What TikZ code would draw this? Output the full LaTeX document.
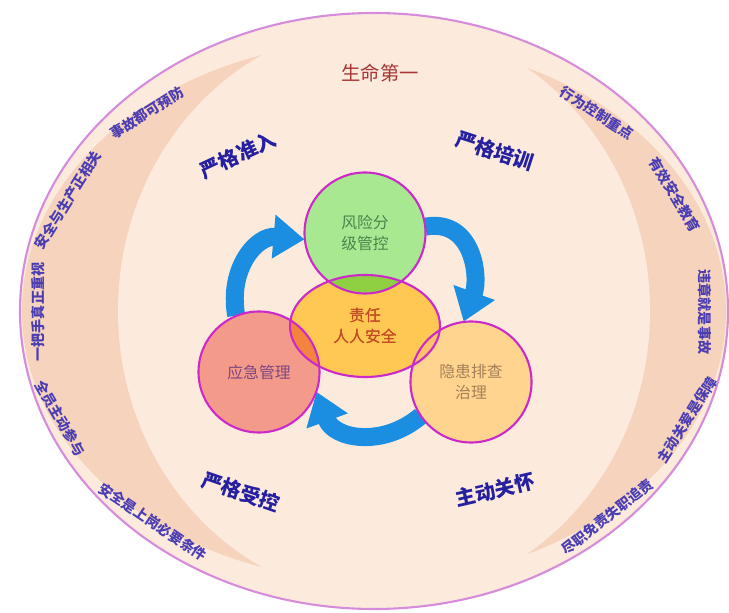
\documentclass[tikz,border=0pt]{standalone}
\usepackage{fontspec}
\setmainfont{Noto Sans CJK SC}
\usetikzlibrary{arrows.meta,backgrounds,shapes.geometric}

\definecolor{rim}{HTML}{D68CDA}
\definecolor{band}{HTML}{F6D3BD}
\definecolor{pale}{HTML}{FCEBDD}
\definecolor{ring}{HTML}{CC2AC8}
\definecolor{flow}{HTML}{1C8EE2}
\definecolor{leaf}{HTML}{A8E890}
\definecolor{leafdark}{HTML}{8ED042}
\definecolor{sun}{HTML}{FFC853}
\definecolor{coral}{HTML}{F49A8A}
\definecolor{coraldark}{HTML}{F2843E}
\definecolor{peach}{HTML}{FFD48E}
\definecolor{peachdark}{HTML}{FFC266}
\definecolor{motto}{HTML}{4B3DB2}
\definecolor{rule}{HTML}{2620A0}
\definecolor{life}{HTML}{A83434}

\tikzset{
  flowarrow/.style={draw=flow, line width=0.36cm, -{Triangle[width=0.84cm,length=0.62cm]}},
  ringline/.style={draw=ring, line width=1.2pt}
}

\begin{document}
\begin{tikzpicture}[x=0.02cm,y=0.02cm]
\useasboundingbox (0,0) rectangle (729,612);

        \begin{scope}[every node/.style={circle, minimum size=2.42cm, inner sep=0pt, align=center, font=\fontsize{9}{11.5}\selectfont}]
          \node[ellipse, minimum width=3cm, minimum height=2.04cm, fill=sun, text=life!70!orange] (duty) at (365,286) {责任\\人人安全};
          \node[fill=leaf, text=black!45!green!40!gray] (risk) at (365,379) {风险分\\级管控};
          \node[fill=coral, text=violet!45!gray] (emerg) at (259,240) {应急管理};
          \node[fill=peach, text=brown!60!gray] (hazard) at (471,230) {隐患排查\\治理};
        \end{scope}

        \begin{scope}
          \clip (duty.center) ellipse [x radius=75, y radius=51];
          \fill[leafdark] (risk.center) circle [radius=60.5];
          \fill[coraldark] (emerg.center) circle [radius=60.5];
          \fill[peachdark] (hazard.center) circle [radius=60.5];
        \end{scope}
        \node[text=life!70!orange, align=center, font=\fontsize{9}{11.5}\selectfont] at (duty.center) {责任\\人人安全};

        \draw[ringline] (duty.center) ellipse [x radius=75, y radius=51];
        \draw[ringline] (risk.center) circle [radius=60.5];
        \draw[ringline] (emerg.center) circle [radius=60.5];
        \draw[ringline] (hazard.center) circle [radius=60.5];

        \begin{scope}[on background layer]
          \fill[pale] (374,301) ellipse [x radius=354, y radius=298];
          \fill[band] (374,301) ellipse [x radius=352, y radius=270];
          \fill[pale] (384,301) ellipse [x radius=266, y radius=288];
          \draw[rim, line width=1.2pt] (374,301) ellipse [x radius=354, y radius=298];

          \path[flowarrow] (emerg.112) to[out=100, in=175, looseness=1.2] (risk.186);
          \path[flowarrow] (risk.6) to[out=10, in=70, looseness=1.2] (hazard.97);
          \path[flowarrow] (hazard.214) to[out=220, in=-70, looseness=1.2] (emerg.-19);
        \end{scope}

        \node[text=life, font=\fontsize{11}{13}\selectfont] (first) at (380,539) {生命第一};

        \begin{scope}[every node/.style={text=rule, font=\bfseries\fontsize{11.5}{14}\selectfont}]
          \node[rotate=25]  (entry)   at (238,457) {严格准入};
          \node[rotate=-18] (train)   at (495,461) {严格培训};
          \node[rotate=-19] (control) at (241,120) {严格受控};
          \node[rotate=13]  (concern) at (495,122) {主动关怀};
        \end{scope}

        \begin{scope}[every node/.style={text=motto, font=\bfseries\fontsize{8}{9}\selectfont}]
          \node[rotate=32]  (prevent) at (147,499) {事故都可预防};
          \node[rotate=58]  (relate)  at (68,412)  {安全与生产正相关};
          \node[rotate=90]  (leader)  at (38,300)  {一把手真正重视};
          \node[rotate=-60] (join)    at (60,194)  {全员主动参与};
          \node[rotate=-34] (post)    at (153,90)  {安全是上岗必要条件};
          \node[rotate=-33] (behave)  at (597,499) {行为控制重点};
          \node[rotate=-59] (educate) at (675,417) {有效安全教育};
          \node[rotate=-90] (violate) at (705,300) {违章就是事故};
          \node[rotate=58]  (care)    at (687,192) {主动关爱是保障};
          \node[rotate=38]  (account) at (607,95)  {尽职免责失职追责};
        \end{scope}

      \end{tikzpicture}
\end{document}
